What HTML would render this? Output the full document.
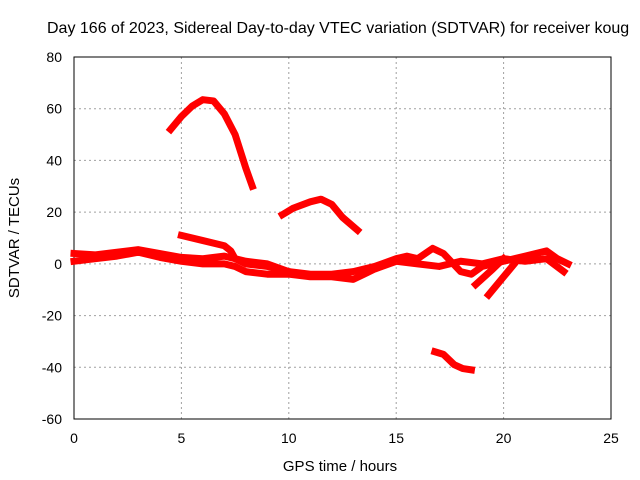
<!DOCTYPE html>
<html><head><meta charset="utf-8"><style>
body{margin:0;background:#fff}
svg{display:block;font-family:"Liberation Sans",sans-serif}
</style></head><body>
<svg id="c" width="640" height="480"></svg>
<script>
const xTicks=[0,5,10,15,20,25];
const yTicks=[-60,-40,-20,0,20,40,60,80];
const seriesA=[[4.5,52],[5,57],[5.5,61],[6,63.5],[6.5,63],[7,58],[7.5,50],[8,37],[8.3,30]];
const seriesB=[[9.7,19],[10.2,21.5],[11,24],[11.5,25],[12,23],[12.5,18],[13.2,13]];
const seriesC=[[16.8,-34],[17.2,-35],[17.7,-39],[18.1,-40.5],[18.5,-41]];
const seriesD=[[0,4],[1,3.5],[2,4.5],[3,5.5],[4,4],[5,2.5],[6,2],[7,3],[8,1],[9,0],[10,-3],[11,-4],[12,-4],[13,-3],[14,-1],[15,2],[15.5,3],[16,2],[16.7,6],[17.2,4],[18,-3],[18.5,-4],[19,-1],[20,1],[21,3],[22,5],[22.5,2],[23,0]];
const seriesE=[[0,1],[1,2],[2,3],[3,4.5],[4,2.5],[5,1],[6,0],[7,0],[7.5,-1],[8,-3],[9,-4],[10,-4],[11,-5],[12,-5],[13,-6],[13.5,-4],[14,-2],[15,1],[16,0],[17,-1],[18,1],[19,0],[20,2],[21,1],[22,2],[22.8,-3]];
const seriesF=[[5,11],[6,9],[7,7],[7.3,5],[7.5,2],[8,0],[9,-1],[10,-3]];
const seriesG=[[18.7,-8],[19.5,-2],[20,2]];
const seriesH=[[19.3,-12],[20,-5],[20.5,0]];
const X=v=>74+v*(611-74)/25, Y=v=>57+(80-v)*(419-57)/140;
const svg=document.getElementById('c');const NS='http://www.w3.org/2000/svg';
function mk(t,a,txt){const e=document.createElementNS(NS,t);for(const k in a)e.setAttribute(k,a[k]);if(txt!=null)e.textContent=txt;svg.appendChild(e);return e;}
xTicks.forEach(t=>{
 if(t>0&&t<25){const g=mk('line',{x1:X(t),x2:X(t),y1:57,y2:419,stroke:'#a0a0a0','stroke-dasharray':'2,3'});
 
 }
 const l=mk('text',{x:X(t),y:443,'text-anchor':'middle','font-size':14},String(t));
 
 
});
yTicks.forEach(t=>{
 if(t>-60&&t<80){const g=mk('line',{x1:74,x2:611,y1:Y(t),y2:Y(t),stroke:'#a0a0a0','stroke-dasharray':'2,3'});
 
 }
 const l=mk('text',{x:62,y:Y(t)+5,'text-anchor':'end','font-size':14},String(t));
 
 
});
const fr=mk('rect',{x:74,y:57,width:537,height:362,fill:'none',stroke:'#000'});


[seriesA,seriesB,seriesC,seriesD,seriesE,seriesF,seriesG,seriesH].forEach(s=>{
 const p=mk('polyline',{points:s.map(d=>X(d[0])+','+Y(d[1])).join(' '),fill:'none',stroke:'#f00','stroke-width':7,'stroke-linejoin':'round','stroke-linecap':'square'});
 
 
});
const t=mk('text',{x:47,y:33,'text-anchor':'start','font-size':16},'Day 166 of 2023, Sidereal Day-to-day VTEC variation (SDTVAR) for receiver koug');


const xt=mk('text',{x:340,y:471,'text-anchor':'middle','font-size':15},'GPS time / hours');


const yt=mk('text',{x:19,y:238,'text-anchor':'middle','font-size':15,transform:'rotate(-90 19 238)'},'SDTVAR / TECUs');


</script>
</body></html>
